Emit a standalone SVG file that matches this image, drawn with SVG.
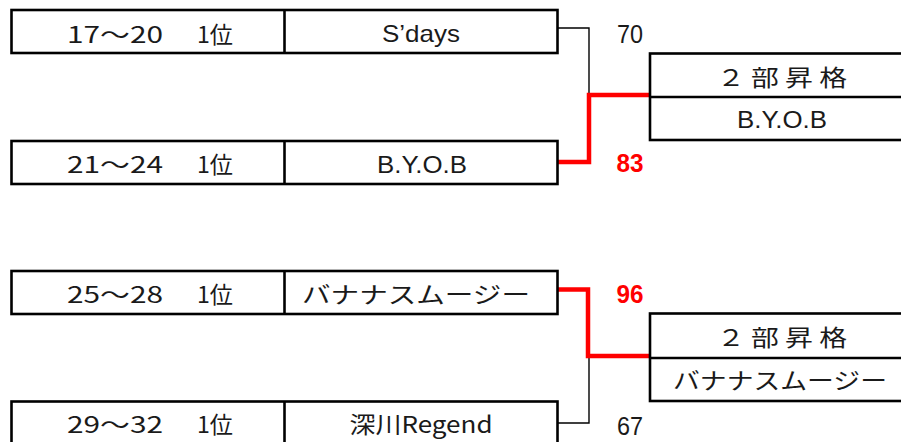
<svg xmlns="http://www.w3.org/2000/svg" width="901" height="442" viewBox="0 0 901 442">
<style>
.box{fill:#fff;stroke:#000;stroke-width:2.6}
.div{stroke:#000;stroke-width:2.6}
.t{font-family:"Liberation Sans","Noto Sans CJK JP",sans-serif;font-size:24px;fill:#1a1a1a;text-anchor:middle}
.j{font-family:"Noto Sans CJK JP","Liberation Sans",sans-serif;font-size:23px;fill:#1a1a1a;text-anchor:middle}
.l{font-family:"Noto Sans CJK JP","Liberation Sans",sans-serif;font-size:23px;fill:#1a1a1a;text-anchor:start}
.s{font-family:"Liberation Sans",sans-serif;font-size:26px;fill:#1a1a1a;text-anchor:middle}
.w{font-family:"Liberation Sans",sans-serif;font-size:26px;font-weight:bold;fill:#ff0000;text-anchor:middle}
.thin{fill:none;stroke:#000;stroke-width:1.4}
.red{fill:none;stroke:#ff0000;stroke-width:4.5}
</style>
<rect width="901" height="442" fill="#fff"/>
<g id="connectors">
<polyline class="thin" points="558,28 589,28 589,96"/>
<polyline class="red" points="557,162 589,162 589,95 649,95"/>
<polyline class="thin" points="558,423 589,423 589,356"/>
<polyline class="red" points="557,289.5 588,289.5 588,356 649,356"/>
</g>
<g id="team1">
<rect class="box" x="11.5" y="10" width="546" height="43"/>
<line class="div" x1="284.5" y1="10" x2="284.5" y2="53"/>
<text class="l" y="43"><tspan x="67" textLength="96" lengthAdjust="spacingAndGlyphs">17～20</tspan><tspan x="197" textLength="36" lengthAdjust="spacingAndGlyphs">1位</tspan></text>
<text class="t" x="421" y="42" textLength="78" lengthAdjust="spacingAndGlyphs">S’days</text>
</g>
<g id="team2">
<rect class="box" x="11.5" y="141" width="546" height="43"/>
<line class="div" x1="284.5" y1="141" x2="284.5" y2="184"/>
<text class="l" y="173"><tspan x="67" textLength="96" lengthAdjust="spacingAndGlyphs">21～24</tspan><tspan x="197" textLength="36" lengthAdjust="spacingAndGlyphs">1位</tspan></text>
<text class="t" x="422" y="173" textLength="90" lengthAdjust="spacingAndGlyphs">B.Y.O.B</text>
</g>
<g id="team3">
<rect class="box" x="11.5" y="271" width="546" height="43"/>
<line class="div" x1="284.5" y1="271" x2="284.5" y2="314"/>
<text class="l" y="303"><tspan x="67" textLength="96" lengthAdjust="spacingAndGlyphs">25～28</tspan><tspan x="197" textLength="36" lengthAdjust="spacingAndGlyphs">1位</tspan></text>
<text class="j" x="416" y="303" textLength="228" lengthAdjust="spacingAndGlyphs">バナナスムージー</text>
</g>
<g id="team4">
<rect class="box" x="11.5" y="401.5" width="546" height="60"/>
<line class="div" x1="284.5" y1="401.5" x2="284.5" y2="460"/>
<text class="l" y="433"><tspan x="67" textLength="96" lengthAdjust="spacingAndGlyphs">29～32</tspan><tspan x="197" textLength="36" lengthAdjust="spacingAndGlyphs">1位</tspan></text>
<text class="j" x="421" y="433" textLength="143" lengthAdjust="spacingAndGlyphs">深川Regend</text>
</g>
<g id="scores">
<text class="s" x="630" y="43" textLength="26" lengthAdjust="spacingAndGlyphs">70</text>
<text class="w" x="630" y="172" textLength="27" lengthAdjust="spacingAndGlyphs">83</text>
<text class="w" x="630" y="303" textLength="27" lengthAdjust="spacingAndGlyphs">96</text>
<text class="s" x="630" y="435" textLength="26" lengthAdjust="spacingAndGlyphs">67</text>
</g>
<g id="winner1">
<rect class="box" x="650" y="53.5" width="270" height="86.5"/>
<line class="div" x1="650" y1="97" x2="920" y2="97"/>
<text class="j" x="782" y="86" textLength="130" lengthAdjust="spacingAndGlyphs">２ 部 昇 格</text>
<text class="t" x="782" y="128" textLength="90" lengthAdjust="spacingAndGlyphs">B.Y.O.B</text>
</g>
<g id="winner2">
<rect class="box" x="650" y="313.5" width="270" height="87.5"/>
<line class="div" x1="650" y1="358" x2="920" y2="358"/>
<text class="j" x="782" y="346" textLength="130" lengthAdjust="spacingAndGlyphs">２ 部 昇 格</text>
<text class="j" x="780" y="389" textLength="214" lengthAdjust="spacingAndGlyphs">バナナスムージー</text>
</g>
</svg>
